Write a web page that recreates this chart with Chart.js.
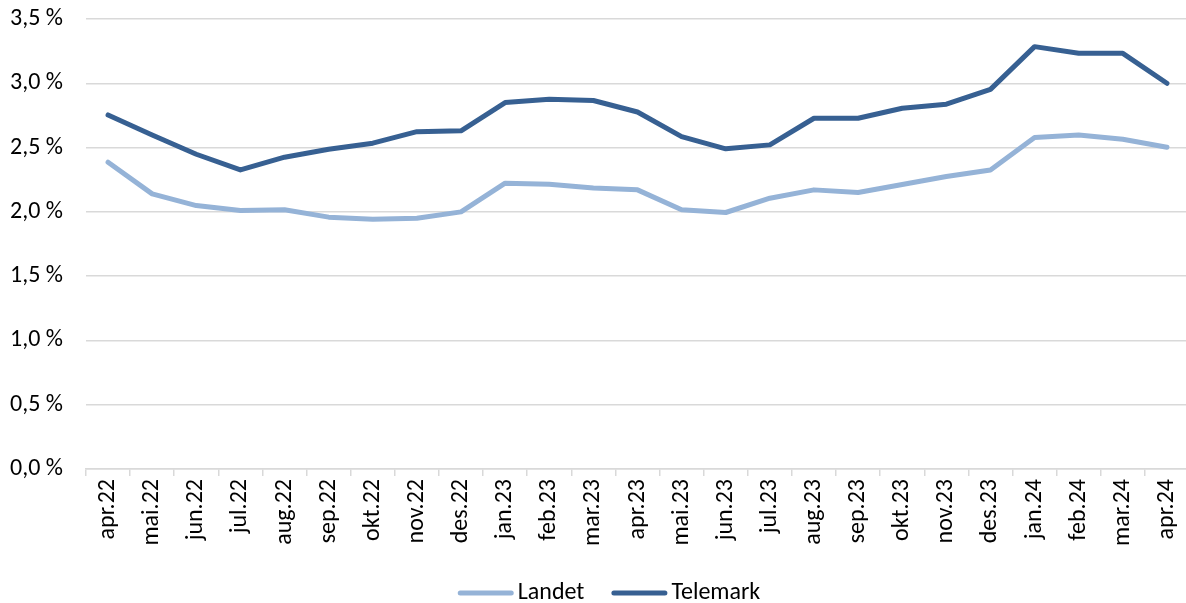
<!DOCTYPE html>
<html>
<head>
<meta charset="utf-8">
<script src="https://cdn.jsdelivr.net/npm/chart.js@4/dist/chart.umd.min.js"></script>
<style>
html,body{margin:0;padding:0;background:#fff;overflow:hidden;}
#wrap{width:1189px;height:603px;}
</style>
</head>
<body>
<div id="wrap"><canvas id="c" width="1189" height="603"></canvas></div>
<script>
const categories = ["apr.22","mai.22","jun.22","jul.22","aug.22","sep.22","okt.22","nov.22","des.22","jan.23","feb.23","mar.23","apr.23","mai.23","jun.23","jul.23","aug.23","sep.23","okt.23","nov.23","des.23","jan.24","feb.24","mar.24","apr.24"];
const landet = [2.386,2.14,2.049,2.01,2.016,1.959,1.943,1.951,2.0,2.223,2.215,2.186,2.171,2.016,1.995,2.106,2.171,2.15,2.213,2.275,2.326,2.578,2.598,2.565,2.503];
const telemark = [2.754,2.598,2.448,2.326,2.425,2.487,2.534,2.624,2.63,2.85,2.876,2.866,2.777,2.585,2.49,2.521,2.728,2.728,2.806,2.837,2.953,3.285,3.233,3.233,3.0];
const seriesNames = ["Landet","Telemark"];

const FONT = "Carlito, Lato, 'Liberation Sans', sans-serif";
const FS = 24;
Chart.defaults.font.family = FONT;
Chart.defaults.color = "#000";

const customLegend = {
  id: 'customLegend',
  afterDraw(chart) {
    const ctx = chart.ctx;
    ctx.save();
    ctx.font = FS + "px " + FONT;
    ctx.textBaseline = 'middle';
    const lineW = 56, gapText = 4, gapItem = 27;
    const items = chart.data.datasets.map(d => ({label: d.label, color: d.borderColor, w: lineW + gapText + ctx.measureText(d.label).width}));
    const total = items.reduce((s, it) => s + it.w, 0) + gapItem * (items.length - 1);
    let x = 609 - total / 2;
    const y = 593;
    items.forEach(it => {
      ctx.strokeStyle = it.color;
      ctx.lineWidth = 5;
      ctx.lineCap = 'round';
      ctx.beginPath();
      ctx.moveTo(x + 2.5, y);
      ctx.lineTo(x + lineW - 2.5, y);
      ctx.stroke();
      ctx.fillStyle = '#000';
      ctx.fillText(it.label, x + lineW + gapText, y);
      x += it.w + gapItem;
    });
    ctx.restore();
  }
};

new Chart(document.getElementById('c'), {
  type: 'line',
  data: {
    labels: categories,
    datasets: [
      {label: seriesNames[0], data: landet, borderColor: '#95B3D7', backgroundColor: '#95B3D7', borderWidth: 5, pointRadius: 0, tension: 0, borderCapStyle: 'round', borderJoinStyle: 'round'},
      {label: seriesNames[1], data: telemark, borderColor: '#376092', backgroundColor: '#376092', borderWidth: 5, pointRadius: 0, tension: 0, borderCapStyle: 'round', borderJoinStyle: 'round'}
    ]
  },
  plugins: [customLegend],
  options: {
    responsive: false,
    animation: false,
    layout: {padding: {left: 0, right: 0, top: 19, bottom: 40}},
    plugins: {
      legend: {display: false},
      tooltip: {enabled: false}
    },
    scales: {
      x: {
        offset: true,
        afterFit(scale) { scale.height = 94; scale.paddingLeft = 0; scale.paddingRight = 0; },
        grid: {display: true, drawOnChartArea: false, drawTicks: true, tickLength: 7, color: '#D9D9D9', lineWidth: 1.5, offset: true},
        border: {display: true, color: '#D9D9D9', width: 1.5},
        ticks: {minRotation: 90, maxRotation: 90, autoSkip: false, font: {size: FS}, padding: 3, color: '#000'}
      },
      y: {
        min: 0, max: 3.5,
        afterFit(scale) { scale.width = 86; scale.paddingTop = 0; scale.paddingBottom = 0; },
        grid: {color: '#D9D9D9', lineWidth: 1.5, drawTicks: false},
        border: {display: false},
        ticks: {stepSize: 0.5, font: {size: FS}, padding: 23, color: '#000',
          callback: v => v.toFixed(1).replace('.', ',') + ' %'}
      }
    }
  }
});
</script>
</body>
</html>
